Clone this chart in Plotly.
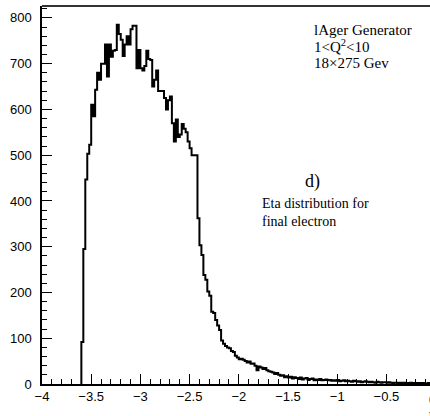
import plotly.graph_objects as go

# Histogram definition: 180 bins of width 0.02 starting at eta = -3.6
BIN_LO = -3.6
BIN_WIDTH = 0.02
counts = [
    92, 295, 447, 503, 523, 610, 585, 643, 680, 665,
    700, 700, 742, 672, 742, 715, 728, 730, 785, 765,
    752, 717, 742, 760, 742, 775, 783, 783, 690, 730,
    690, 685, 695, 728, 710, 708, 650, 665, 685, 640,
    640, 640, 625, 600, 620, 628, 570, 530, 578, 540,
    545, 568, 558, 550, 530, 515, 500, 500, 500, 362,
    303, 282, 238, 228, 202, 193, 158, 155, 140, 128,
    118, 95, 88, 83, 80, 78, 72, 70, 62, 58,
    54, 55, 53, 50, 47, 49, 44, 45, 40, 30,
    38, 36, 33, 35, 30, 28, 27, 25, 22, 24,
    20, 18, 19, 15, 17, 14, 16, 12, 15, 13,
    11, 14, 10, 12, 13, 9, 11, 12, 8, 10,
    9, 11, 8, 9, 10, 8, 9, 7, 8, 7,
    9, 6, 7, 8, 6, 7, 6, 5, 7, 6,
    5, 6, 4, 5, 6, 5, 4, 5, 4, 3,
    5, 4, 3, 4, 4, 3, 4, 3, 2, 3,
    3, 2, 3, 2, 3, 2, 2, 3, 2, 1,
    2, 2, 1, 2, 1, 1, 2, 1, 1, 1,
]

x_ticks = [-4, -3.5, -3, -2.5, -2, -1.5, -1, -0.5]
x_tick_text = ["\u22124", "\u22123.5", "\u22123", "\u22122.5", "\u22122", "\u22121.5", "\u22121", "\u22120.5"]
y_ticks = [0, 100, 200, 300, 400, 500, 600, 700, 800]

info_lines = ["lAger Generator", "1&lt;Q<sup>2</sup>&lt;10", "18\u00d7275 Gev"]
panel_label = "d)"
desc_lines = ["Eta distribution for", "final electron"]

X_MIN, X_MAX = -4.0, -0.057
Y_MIN, Y_MAX = 0, 826

edges = [BIN_LO + BIN_WIDTH * i for i in range(len(counts) + 1)]
xs = [edges[0]] + edges
ys = [0] + counts + [counts[-1]]

fig = go.Figure()
fig.add_trace(go.Scatter(
    x=xs, y=ys, mode="lines", line=dict(shape="hv", color="black", width=2),
    showlegend=False, hoverinfo="skip",
))

W, H = 430, 416
ml, mr, mt, mb = 42, 0, 6, 32
PH = H - mt - mb

def xpaper(v):
    return (v - X_MIN) / (X_MAX - X_MIN)

serif = "Liberation Serif"
ann = []
for i, t in enumerate(info_lines):
    ann.append(dict(text=t, x=0.695, y=1 - (24 + 16.5 * i) / PH, xref="paper", yref="paper",
                    xanchor="left", yanchor="middle", showarrow=False,
                    font=dict(family=serif, size=15, color="black")))
ann.append(dict(text=panel_label, x=0.698, y=1 - 175 / PH, xref="paper", yref="paper",
                xanchor="center", yanchor="middle", showarrow=False,
                font=dict(family=serif, size=18, color="black")))
ann.append(dict(text="<br>".join(desc_lines), x=0.562, y=1 - 188 / PH, xref="paper", yref="paper",
                xanchor="left", yanchor="top", align="left", showarrow=False,
                font=dict(family=serif, size=14, color="black")))
# tick label "0" and axis title, cut off by the right border as in the original
ann.append(dict(text="0", x=xpaper(0) - 0.022, y=-0.015, xref="paper", yref="paper",
                xanchor="left", yanchor="top", showarrow=False,
                font=dict(family="Liberation Sans", size=13, color="black")))
ann.append(dict(text="\u03b7", x=0.993, y=-0.055, xref="paper", yref="paper",
                xanchor="left", yanchor="top", showarrow=False,
                font=dict(family="Liberation Serif", size=14, color="black")))

fig.update_layout(
    width=W, height=H,
    margin=dict(l=ml, r=mr, t=mt, b=mb),
    paper_bgcolor="white", plot_bgcolor="white",
    annotations=ann,
    shapes=[dict(type="line", xref="paper", yref="paper", x0=0, x1=1, y0=1, y1=1,
                 line=dict(color="#333333", width=2))],
    xaxis=dict(range=[X_MIN, X_MAX], tickvals=x_ticks, ticktext=x_tick_text,
               ticks="inside", ticklen=10, tickwidth=1, tickcolor="black",
               minor=dict(ticks="inside", ticklen=5, dtick=0.1, tickcolor="black", tick0=-4),
               showline=True, linecolor="black", linewidth=1.5,
               showgrid=False, zeroline=False,
               tickfont=dict(family="Liberation Sans", size=13, color="black")),
    yaxis=dict(range=[Y_MIN, Y_MAX], tickvals=y_ticks,
               ticks="inside", ticklen=10, tickwidth=1, tickcolor="black",
               minor=dict(ticks="inside", ticklen=5, dtick=20, tickcolor="black", tick0=0),
               showline=True, linecolor="black", linewidth=1.5,
               showgrid=False, zeroline=False, ticklabelstandoff=6,
               tickfont=dict(family="Liberation Sans", size=13, color="black")),
)

fig.write_html("out.html")
